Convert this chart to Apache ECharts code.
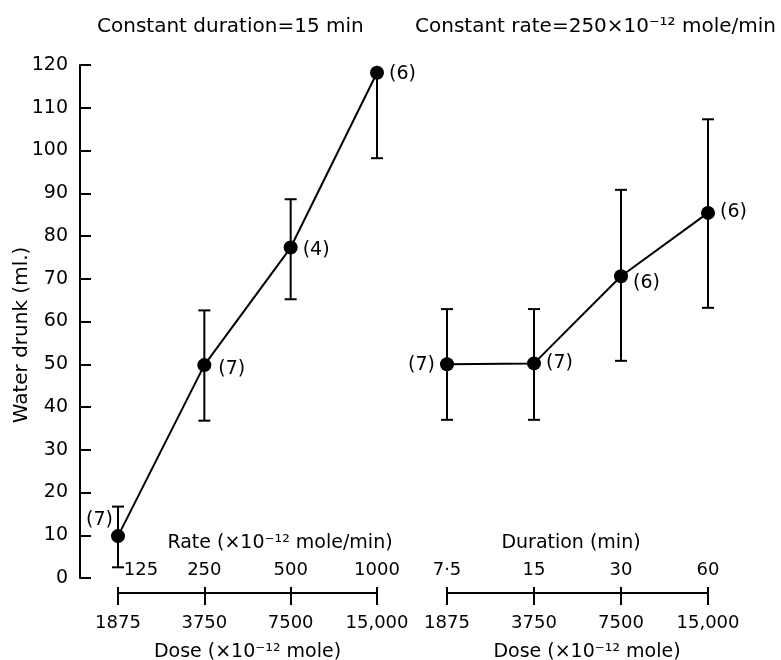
<!DOCTYPE html>
<html>
<head>
<meta charset="utf-8">
<title>Water drunk</title>
<script src="https://cdn.jsdelivr.net/npm/echarts/dist/echarts.min.js"></script>
<style>
html, body { margin: 0; padding: 0; background: #fff; }
#chart { width: 781px; height: 660px; }
</style>
</head>
<body>
<div id="chart"></div>
<script>
// 横轴刻度
var doseLabels = ['1875', '3750', '7500', '15,000'];
var rateLabels = ['125', '250', '500', '1000'];
var durationLabels = ['7·5', '15', '30', '60'];

// 左图：固定时长 15 min
var rateMean = [9.8, 49.8, 77.3, 118.2];
var rateLow = [2.5, 36.8, 65.2, 98.2];
var rateHigh = [16.7, 62.6, 88.6, null];
var rateN = [7, 7, 4, 6];

// 右图：固定速率
var durMean = [50, 50.2, 70.6, 85.4];
var durLow = [37, 37, 50.8, 63.2];
var durHigh = [62.9, 62.9, 90.8, 107.3];
var durN = [7, 7, 6, 6];

var font = 'DejaVu Sans';
var black = '#000';
// 横轴画在 y=0 下方 15px，数据网格的 y 轴下限相应延伸
var yLow = -15 / (513 / 120);

//误差线
function errorBar(params, api){
	var idx = api.value(0);
	var mean = api.value(1);
	var low = api.value(2);
	var high = api.value(3);
	var pLow = api.coord([idx, low]);
	var pTop;
	var hasHigh = !(high == null || isNaN(high));
	if(hasHigh){
		pTop = api.coord([idx, high]);
	}else{
		pTop = api.coord([idx, mean]);
	}
	var half = 6;
	var st = {stroke: black, lineWidth: 2};
	var children = [
		{type: 'line', shape: {x1: pLow[0], y1: pLow[1], x2: pTop[0], y2: pTop[1]}, style: st},
		{type: 'line', shape: {x1: pLow[0]-half, y1: pLow[1], x2: pLow[0]+half, y2: pLow[1]}, style: st}
	];
	if(hasHigh){
		children.push({type: 'line', shape: {x1: pTop[0]-half, y1: pTop[1], x2: pTop[0]+half, y2: pTop[1]}, style: st});
	}
	return {type: 'group', children: children};
}

function barData(mean, low, high){
	var arr = [];
	for(var i=0; i<mean.length; i++){
		arr.push([i, mean[i], low[i], high[i]]);
	}
	return arr;
}

// 点 + (n) 标注，位置逐点给出
function pointData(mean, n, pos){
	var arr = [];
	for(var i=0; i<mean.length; i++){
		arr.push({
			value: mean[i],
			label: {position: pos[i][0], offset: pos[i][1], formatter: '(' + n[i] + ')'}
		});
	}
	return arr;
}

function lineSeries(xIdx, yIdx, data){
	return {
		type: 'line', xAxisIndex: xIdx, yAxisIndex: yIdx, z: 5,
		symbol: 'circle', symbolSize: 14,
		itemStyle: {color: black},
		lineStyle: {color: black, width: 2},
		label: {show: true, color: black, fontSize: 19, fontFamily: font},
		animation: false,
		data: data
	};
}

function doseAxis(grid, pad){
	return {
		type: 'category', gridIndex: grid, data: doseLabels, boundaryGap: false,
		position: 'bottom',
		axisLine: {show: true, onZero: false, lineStyle: {color: black, width: 2}},
		axisTick: {show: true, length: 12, interval: 0, lineStyle: {color: black, width: 2}},
		axisLabel: {interval: 0, margin: 21, color: black, fontSize: 18, fontFamily: font},
		splitLine: {show: false},
		name: 'Dose (×10⁻¹² mole)', nameLocation: 'middle', nameGap: 50, nameMoveOverlap: false,
		nameTextStyle: {color: black, fontSize: 19, fontFamily: font, padding: pad}
	};
}

function topAxis(grid, labels, title, pad, firstPad){
	return {
		type: 'category', gridIndex: grid, data: labels, boundaryGap: false,
		position: 'bottom',
		axisLine: {show: false, onZero: false},
		axisTick: {show: true, inside: true, length: 6, interval: 0, lineStyle: {color: black, width: 2}},
		axisLabel: {
			inside: true, interval: 0, margin: 14, color: black, fontSize: 18, fontFamily: font,
			formatter: function(value, index){
				return index === 0 ? '{a|' + value + '}' : value;
			},
			rich: {a: {color: black, fontSize: 18, fontFamily: font, padding: [0, 0, 0, firstPad]}}
		},
		splitLine: {show: false},
		name: title, nameLocation: 'middle', nameGap: -59, nameMoveOverlap: false,
		nameTextStyle: {color: black, fontSize: 19, fontFamily: font, padding: pad}
	};
}

function hiddenY(grid){
	return {type: 'value', gridIndex: grid, min: yLow, max: 120, show: false};
}

var titleStyle = {color: black, fontSize: 20, fontWeight: 'normal', fontFamily: font};

var option = {
	backgroundColor: '#fff',
	animation: false,
	title: [
		{text: 'Constant duration=15 min', left: 97, top: 17, padding: 0, textStyle: titleStyle},
		{text: 'Constant rate=250×10⁻¹² mole/min', left: 415, top: 17, padding: 0, textStyle: titleStyle}
	],
	grid: [
		// 纵轴
		{left: 80, top: 65, width: 38, height: 513, containLabel: false, outerBoundsMode: 'none'},
		// 左图
		{left: 118, top: 65, width: 259, height: 528, containLabel: false, outerBoundsMode: 'none'},
		// 右图
		{left: 447, top: 65, width: 261, height: 528, containLabel: false, outerBoundsMode: 'none'}
	],
	xAxis: [
		{type: 'value', gridIndex: 0, show: false},
		doseAxis(1, [0, 0, 0, 0]),
		topAxis(1, rateLabels, 'Rate (×10⁻¹² mole/min)', [0, 0, 0, 65], 46),
		doseAxis(2, [0, 0, 0, 19]),
		topAxis(2, durationLabels, 'Duration (min)', [0, 13, 0, 0], 0)
	],
	yAxis: [
		{
			type: 'value', gridIndex: 0, min: 0, max: 120, interval: 10,
			position: 'left',
			axisLine: {show: true, lineStyle: {color: black, width: 2}},
			axisTick: {show: true, inside: true, length: 11, lineStyle: {color: black, width: 2}},
			axisLabel: {margin: 12, color: black, fontSize: 19, fontFamily: font},
			splitLine: {show: false},
			name: 'Water drunk (ml.)', nameLocation: 'middle', nameGap: 48, nameMoveOverlap: false,
			nameTextStyle: {color: black, fontSize: 20, fontFamily: font, padding: [0, 27, 0, 0]}
		},
		hiddenY(1),
		hiddenY(2)
	],
	series: [
		{
			type: 'custom', xAxisIndex: 1, yAxisIndex: 1, z: 2,
			renderItem: errorBar, encode: {x: 0, y: 1},
			data: barData(rateMean, rateLow, rateHigh)
		},
		lineSeries(1, 1, pointData(rateMean, rateN, [
			['left', [7, -16]], ['right', [2, 4]], ['right', [0, 3]], ['right', [0, 1]]
		])),
		{
			type: 'custom', xAxisIndex: 3, yAxisIndex: 2, z: 2,
			renderItem: errorBar, encode: {x: 0, y: 1},
			data: barData(durMean, durLow, durHigh)
		},
		lineSeries(3, 2, pointData(durMean, durN, [
			['left', [0, 1]], ['right', [0, 0]], ['right', [0, 7]], ['right', [0, -1]]
		]))
	]
};

var myChart = echarts.init(document.getElementById('chart'));
myChart.setOption(option);
</script>
</body>
</html>
